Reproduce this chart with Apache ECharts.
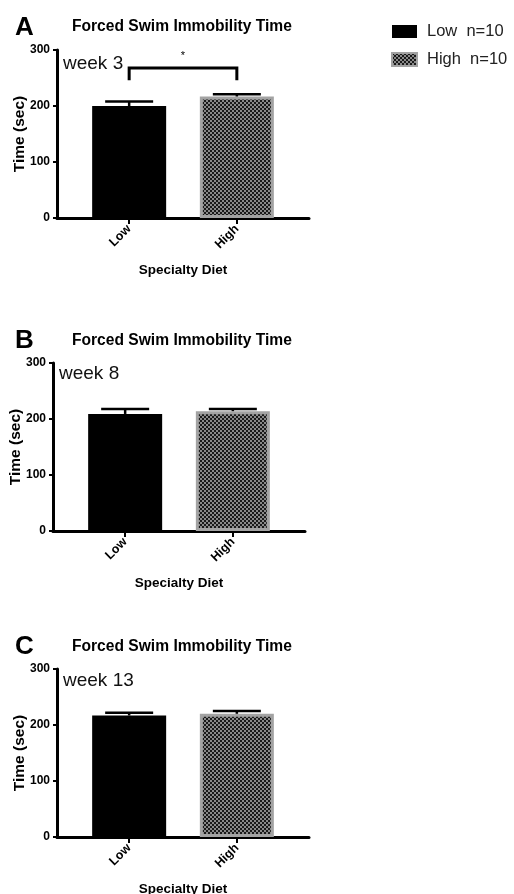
<!DOCTYPE html>
<html>
<head>
<meta charset="utf-8">
<script src="https://cdn.jsdelivr.net/npm/echarts@6/dist/echarts.min.js"></script>
<style>
  html, body { margin: 0; padding: 0; background: #fff; }
  #chart { width: 514px; height: 894px; }
</style>
</head>
<body>
<div id="chart"></div>
<script>
// data
const groups = ['Low', 'High'];
const groupN = [10, 10];
const panelLetters = ['A', 'B', 'C'];
const panelWeeks = ['week 3', 'week 8', 'week 13'];
const lowMeans = [200, 209, 217];
const lowSem = [8, 9, 5];
const highMeans = [217, 214, 220];
const highSem = [4, 4, 5];
// significance bracket for panel A: [from, to, top, legBottom]
const sigBracketA = [0, 1, 268, 246];
const sigStarA = ['*', 290];
const yTicks = [0, 100, 200, 300];

const FONT = '"Liberation Sans", Arial, sans-serif';

// checkered fill used by the High bars
function makeChecker() {
    const c = document.createElement('canvas');
    c.width = 4;
    c.height = 4;
    const ctx = c.getContext('2d');
    ctx.fillStyle = '#8a8a8a';
    ctx.fillRect(0, 0, 4, 4);
    ctx.fillStyle = '#1a1a1a';
    ctx.fillRect(0, 0, 2, 2);
    ctx.fillRect(2, 2, 2, 2);
    return c;
}
const checker = { image: makeChecker(), repeat: 'repeat' };

const chart = echarts.init(document.getElementById('chart'));

// panel layout (pixels)
const panels = [
    { left: 57, top: 50, titleTop: 14, letterTop: 10, weekTop: 49 },
    { left: 53, top: 363, titleTop: 328, letterTop: 323, weekTop: 359 },
    { left: 57, top: 669, titleTop: 634, letterTop: 629, weekTop: 666 }
];
const plotH = 168;
const plotW = 252;

function renderErr(params, api) {
    const x = api.value(0);
    const m = api.value(1);
    const e = api.value(2);
    const base = api.coord([x, m]);
    const top = api.coord([x, m + e]);
    const hw = 24;
    const st = { stroke: '#000', lineWidth: 2.5 };
    return {
        type: 'group',
        children: [
            { type: 'line', shape: { x1: base[0], y1: base[1], x2: top[0], y2: top[1] }, style: st },
            { type: 'line', shape: { x1: top[0] - hw, y1: top[1], x2: top[0] + hw, y2: top[1] }, style: st }
        ]
    };
}

function renderBracket(params, api) {
    const a = api.coord([api.value(0), api.value(2)]);
    const b = api.coord([api.value(1), api.value(2)]);
    const aLeg = api.coord([api.value(0), api.value(3)]);
    const bLeg = api.coord([api.value(1), api.value(3)]);
    const star = api.coord([(api.value(0) + api.value(1)) / 2, sigStarA[1]]);
    return {
        type: 'group',
        children: [
            {
                type: 'polyline',
                shape: { points: [aLeg, a, b, bLeg] },
                style: { stroke: '#000', lineWidth: 3, fill: null }
            },
            {
                type: 'text',
                style: {
                    x: star[0], y: star[1], text: sigStarA[0],
                    fill: '#000', font: '11px ' + FONT,
                    align: 'center', verticalAlign: 'middle'
                }
            }
        ]
    };
}

const grid = [], xAxis = [], yAxis = [], series = [], title = [];

panels.forEach(function (p, i) {
    grid.push({ left: p.left, top: p.top, width: plotW, height: plotH, outerBoundsMode: 'none' });

    xAxis.push({
        type: 'value',
        gridIndex: i,
        min: -0.67,
        max: 1.67,
        name: 'Specialty Diet',
        nameLocation: 'middle',
        nameGap: 45,
        nameTextStyle: { fontFamily: FONT, fontWeight: 'bold', fontSize: 13.5, color: '#000' },
        axisLine: { show: true, onZero: false, lineStyle: { color: '#000', width: 3 } },
        axisTick: { show: true, length: 6, lineStyle: { color: '#000', width: 2 }, customValues: [0, 1] },
        axisLabel: {
            rotate: 45,
            margin: 9,
            fontFamily: FONT,
            fontWeight: 'bold',
            fontSize: 12.5,
            color: '#000',
            customValues: [0, 1],
            formatter: function (v) { return groups[Math.round(v)] || ''; }
        },
        splitLine: { show: false }
    });

    yAxis.push({
        type: 'value',
        gridIndex: i,
        min: 0,
        max: 300,
        interval: 100,
        name: 'Time (sec)',
        nameLocation: 'middle',
        nameGap: 29,
        nameMoveOverlap: false,
        nameTextStyle: { fontFamily: FONT, fontWeight: 'bold', fontSize: 15.5, color: '#000' },
        axisLine: { show: true, onZero: false, lineStyle: { color: '#000', width: 3 } },
        axisTick: { show: true, length: 4, lineStyle: { color: '#000', width: 2 } },
        axisLabel: {
            margin: 7,
            fontFamily: FONT,
            fontWeight: 'bold',
            fontSize: 12,
            color: '#000',
            customValues: yTicks
        },
        splitLine: { show: false }
    });

    title.push({
        text: panelLetters[i],
        left: 10,
        top: p.letterTop,
        textStyle: { fontFamily: FONT, fontWeight: 'bold', fontSize: 26, color: '#000' }
    });
    title.push({
        text: 'Forced Swim Immobility Time',
        left: 67,
        top: p.titleTop,
        textStyle: { fontFamily: FONT, fontWeight: 'bold', fontSize: 15.6, color: '#000' }
    });
    title.push({
        text: panelWeeks[i],
        left: p.left + 1,
        top: p.weekTop,
        textStyle: { fontFamily: FONT, fontWeight: 'normal', fontSize: 19, color: '#111' }
    });

    series.push({
        name: groups[0],
        type: 'bar',
        xAxisIndex: i,
        yAxisIndex: i,
        barWidth: 74,
        barGap: '-100%',
        itemStyle: { color: '#000' },
        data: [[0, lowMeans[i]]]
    });
    series.push({
        name: groups[1],
        type: 'bar',
        xAxisIndex: i,
        yAxisIndex: i,
        barWidth: 74,
        barGap: '-100%',
        itemStyle: { color: checker, borderColor: '#a3a3a3', borderWidth: 3 },
        data: [[1, highMeans[i]]]
    });
    series.push({
        type: 'custom',
        xAxisIndex: i,
        yAxisIndex: i,
        z: 5,
        clip: false,
        renderItem: renderErr,
        encode: { x: 0, y: 1 },
        data: [[0, lowMeans[i], lowSem[i]], [1, highMeans[i], highSem[i]]]
    });
});

// significance bracket in panel A
series.push({
    type: 'custom',
    xAxisIndex: 0,
    yAxisIndex: 0,
    z: 5,
    clip: false,
    renderItem: renderBracket,
    encode: { x: [0, 1], y: [2, 3] },
    data: [sigBracketA]
});

const option = {
    animation: false,
    backgroundColor: '#fff',
    title: title,
    legend: {
        data: groups,
        orient: 'vertical',
        left: 386,
        top: 18,
        icon: 'rect',
        itemWidth: 25,
        itemHeight: 13,
        itemGap: 11,
        formatter: function (name) {
            return name + '  n=' + groupN[groups.indexOf(name)];
        },
        textStyle: { fontFamily: FONT, fontSize: 16.5, color: '#222', padding: [0, 0, 0, 5] }
    },
    grid: grid,
    xAxis: xAxis,
    yAxis: yAxis,
    series: series
};

chart.setOption(option);
</script>
</body>
</html>
